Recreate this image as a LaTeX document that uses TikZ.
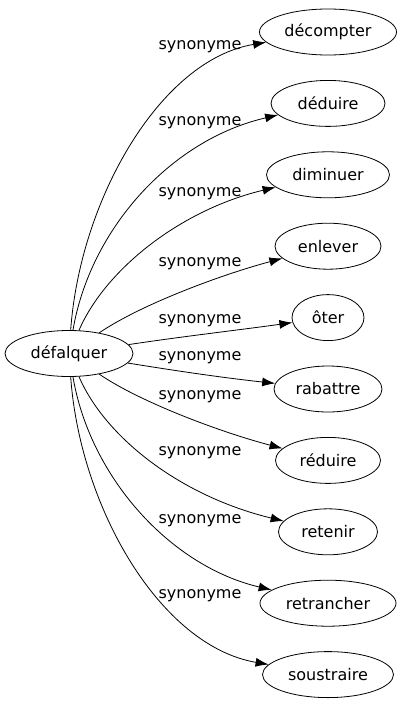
\documentclass[tikz,border=0pt]{standalone}
\usepackage{fontspec}
\setmainfont{DejaVu Sans}
\usetikzlibrary{shapes.geometric,arrows.meta}
\tikzset{
  word/.style={draw=black, ellipse, line width=0.8pt, inner sep=0pt, minimum height=46pt},
  rel/.style={line width=0.8pt, -{Latex[length=13pt,width=9pt]}},
  relname/.style={inner sep=0pt}
}

\begin{document}
\begin{tikzpicture}[x=1pt, y=-1pt, font=\fontsize{16}{19}\selectfont]
  \useasboundingbox (0,0) rectangle (404,707);

  \def \WordX {328}
  \def \TopY {32}
  \def \OffY {71.4}

  \node[word, minimum width=128pt] (defalquer) at (69,353.5) {défalquer};

  \foreach \n/\w/\minw [count=\i from 0] in {decompter/décompter/137, deduire/déduire/114,
      diminuer/diminuer/123, enlever/enlever/106, oter/ôter/72, rabattre/rabattre/108,
      reduire/réduire/105, retenir/retenir/99, retrancher/retrancher/136,
      soustraire/soustraire/131}{
    \node[word, minimum width=\minw pt] (\n) at (\WordX, {\TopY + \i * \OffY}) {\w};
  }

  \foreach \y [count=\i] in {47,123,194,264,321,358,397,453,521,596}{
    \node[relname] (syn\i) at (200,\y) {synonyme};
  }

  % edges, with the two control points of each curve
  \foreach \n/\ax/\ay/\bx/\by in {decompter/80/200/160/60, deduire/90/230/170/140,
      diminuer/105/270/180/210, enlever/140/305/220/275, oter/186/336/239/330,
      rabattre/177/371/225/378, reduire/140/402/220/432, retenir/105/437/180/496,
      retrancher/90/477/170/566, soustraire/80/507/160/646}{
    \draw[rel] (defalquer) .. controls (\ax,\ay) and (\bx,\by) .. (\n);
  }
\end{tikzpicture}
\end{document}
